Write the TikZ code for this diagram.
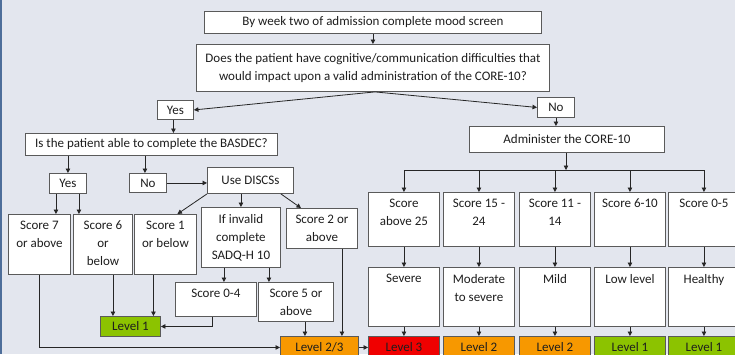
\documentclass[tikz,border=0pt]{standalone}
\usepackage{fontspec}
\setmainfont{Carlito}
\usepackage{xcolor}
\usetikzlibrary{arrows.meta}
\usetikzlibrary{calc}

\definecolor{bgblue}{HTML}{E3E6EE}
\definecolor{edgeblue}{HTML}{4E6E9A}
\definecolor{boxgray}{HTML}{5A5A5A}
\definecolor{txtgray}{HTML}{1E1E1E}
\definecolor{lvlgreen}{HTML}{8CC300}
\definecolor{lvlorange}{HTML}{F79800}
\definecolor{lvlred}{HTML}{F00000}

\tikzset{
    box/.style={draw=boxgray, fill=white, line width=0.9pt, anchor=north west, inner sep=2pt,
        align=center, font=\fontsize{13}{18}\selectfont, text=txtgray},
    toptext/.style={label={[anchor=north, align=center, inner sep=0pt, yshift=-7pt,
        font=\fontsize{13}{18}\selectfont, text=txtgray]north:{#1}}},
    lvl/.style={box, fill=#1},
    arr/.style={-{Triangle[length=4.5pt,width=4.5pt]}, line width=0.8pt, draw=black!85},
}

\begin{document}
\begin{tikzpicture}[x=1pt, y=-1pt]
    \clip (0,0) rectangle (735,354);
    \fill[bgblue] (0,0) rectangle (735,354);
    \draw[edgeblue, line width=1.6pt] (1.2,0) -- (1.2,354);

    % top of the chart
    \node[box, minimum width=337pt, minimum height=22pt] (week) at (204,11) {By week two of admission complete mood screen};
    \node[box, minimum width=353pt, minimum height=47pt] (ask) at (196,44) {Does the patient have cognitive/communication difficulties that\\would impact upon a valid administration of the CORE-10?};
    \node[box, minimum width=36pt, minimum height=19pt] (yes) at (157,100) {Yes};
    \node[box, minimum width=37pt, minimum height=20pt] (no) at (537,97) {No};
    \node[box, minimum width=252pt, minimum height=22pt] (basdec) at (25,133) {Is the patient able to complete the BASDEC?};
    \node[box, minimum width=195pt, minimum height=26pt] (core) at (469,126) {Administer the CORE-10};

    % left branch
    \node[box, minimum width=37pt, minimum height=20pt] (yesb) at (49,173) {Yes};
    \node[box, minimum width=37pt, minimum height=19pt] (nob) at (129,173) {No};
    \node[box, minimum width=86pt, minimum height=26pt] (discs) at (207,167) {Use DISCSs};
    \node[box, minimum width=62pt, minimum height=60pt, toptext={Score 7\\or above}] (sseven) at (8,214) {};
    \node[box, minimum width=59pt, minimum height=60pt, toptext={Score 6\\or\\below}] (ssix) at (73,214) {};
    \node[box, minimum width=62pt, minimum height=60pt, toptext={Score 1\\or below}] (sone) at (134,214) {};
    \node[box, minimum width=79pt, minimum height=60pt, toptext={If invalid\\complete\\SADQ-H 10}] (sadq) at (201,207) {};
    \node[box, minimum width=71pt, minimum height=40pt, toptext={Score 2 or\\above}] (stwo) at (286,208) {};
    \node[box, minimum width=81pt, minimum height=34pt, toptext={Score 0-4}] (szero) at (175,282) {};
    \node[box, minimum width=75pt, minimum height=39pt, toptext={Score 5 or\\above}] (sfive) at (258,282) {};
    \node[lvl=lvlgreen, minimum width=60pt, minimum height=20pt] (levA) at (100,316) {Level 1};
    \node[lvl=lvlorange, minimum width=78pt, minimum height=22pt] (levB) at (280,336) {Level 2/3};

    % right branch
    \node[box, minimum width=71pt, minimum height=54pt, toptext={Score\\above 25}] (rone) at (368,192) {};
    \node[box, minimum width=71pt, minimum height=54pt, toptext={Score 15 -\\24}] (rtwo) at (443,192) {};
    \node[box, minimum width=71pt, minimum height=54pt, toptext={Score 11 -\\14}] (rthree) at (519,192) {};
    \node[box, minimum width=71pt, minimum height=54pt, toptext={Score 6-10}] (rfour) at (594,192) {};
    \node[box, minimum width=71pt, minimum height=54pt, toptext={Score 0-5}] (rfive) at (668,192) {};
    \node[box, minimum width=71pt, minimum height=59pt, toptext={Severe}] (mone) at (368,267) {};
    \node[box, minimum width=71pt, minimum height=59pt, toptext={Moderate\\to severe}] (mtwo) at (443,267) {};
    \node[box, minimum width=71pt, minimum height=59pt, toptext={Mild}] (mthree) at (519,267) {};
    \node[box, minimum width=71pt, minimum height=59pt, toptext={Low level}] (mfour) at (594,267) {};
    \node[box, minimum width=71pt, minimum height=59pt, toptext={Healthy}] (mfive) at (668,267) {};
    \node[lvl=lvlred, minimum width=71pt, minimum height=22pt] (lone) at (368,336) {Level 3};
    \node[lvl=lvlorange, minimum width=71pt, minimum height=22pt] (ltwo) at (443,336) {Level 2};
    \node[lvl=lvlorange, minimum width=71pt, minimum height=22pt] (lthree) at (519,336) {Level 2};
    \node[lvl=lvlgreen, minimum width=71pt, minimum height=22pt] (lfour) at (594,336) {Level 1};
    \node[lvl=lvlgreen, minimum width=71pt, minimum height=22pt] (lfive) at (668,336) {Level 1};
    \coordinate (bus) at (566,170);

    \draw[arr] (week.south) -- (ask.north);
    \draw[arr] ([xshift=2pt]ask.south) -- (yes.east);
    \draw[arr] ([xshift=2pt]ask.south) -- (no.west);
    \draw[arr] ([xshift=-2pt]yes.south) -- ([xshift=-2pt]yes.south |- basdec.north);
    \draw[arr] (no.south) -- (no.south |- core.north);

    \draw[arr] (yesb.north |- basdec.south) -- (yesb.north);
    \draw[arr] ([xshift=-3pt]nob.north |- basdec.south) -- ([xshift=-3pt]nob.north);
    \draw[arr] (nob.east) -- (nob.east -| discs.west);
    \draw[arr] ([xshift=-12pt]yesb.south) -- ([xshift=-12pt]yesb.south |- sseven.north);
    \draw[arr] ([xshift=11pt]yesb.south) -- ([xshift=11pt]yesb.south |- ssix.north);
    \draw[arr] (discs.south west) -- ([xshift=12pt]sone.north);
    \draw[arr] (sadq.north |- discs.south) -- (sadq.north);
    \draw[arr] ([xshift=-13pt]discs.south east) -- ([xshift=-21pt]stwo.north);
    \draw[arr] ([xshift=-17pt]sadq.south) -- ([xshift=-17pt]sadq.south |- szero.north);
    \draw[arr] ([xshift=28pt]sadq.south) -- ([xshift=28pt]sadq.south |- sfive.north);
    \draw[arr] ([xshift=10pt]ssix.south) -- ([xshift=10pt]ssix.south |- levA.north);
    \draw[arr] ([xshift=-12pt]sone.south) -- ([xshift=-12pt]sone.south |- levA.north);
    \draw[arr] ([xshift=-4pt]szero.south) |- (levA.east);
    \draw[arr] (sseven.south) |- (levB.west);
    \draw[arr] ([xshift=9pt]sfive.south) -- ([xshift=9pt]sfive.south |- levB.north);
    \draw[arr] ([xshift=20pt]stwo.south) -- ([xshift=20pt]stwo.south |- levB.north);
    \draw[arr] (levB.east) -- (lone.west);

    \draw[arr] (core.south -| bus) -- (bus);
    \draw[line width=0.8pt, black!85] (bus -| rone.north) -- (bus -| rfive.north);
    \draw[arr] (bus -| rone.north) -- (rone.north);
    \draw[arr] (bus -| rtwo.north) -- (rtwo.north);
    \draw[arr] (bus -| rthree.north) -- (rthree.north);
    \draw[arr] (bus -| rfour.north) -- (rfour.north);
    \draw[arr] (bus -| rfive.north) -- (rfive.north);
    \draw[arr] (rone.south) -- (mone.north);
    \draw[arr] (rtwo.south) -- (mtwo.north);
    \draw[arr] (rthree.south) -- (mthree.north);
    \draw[arr] (rfour.south) -- (mfour.north);
    \draw[arr] (rfive.south) -- (mfive.north);
    \draw[arr] (mone.south) -- (lone.north);
    \draw[arr] (mtwo.south) -- (ltwo.north);
    \draw[arr] (mthree.south) -- (lthree.north);
    \draw[arr] (mfour.south) -- (lfour.north);
    \draw[arr] (mfive.south) -- (lfive.north);
\end{tikzpicture}
\end{document}
